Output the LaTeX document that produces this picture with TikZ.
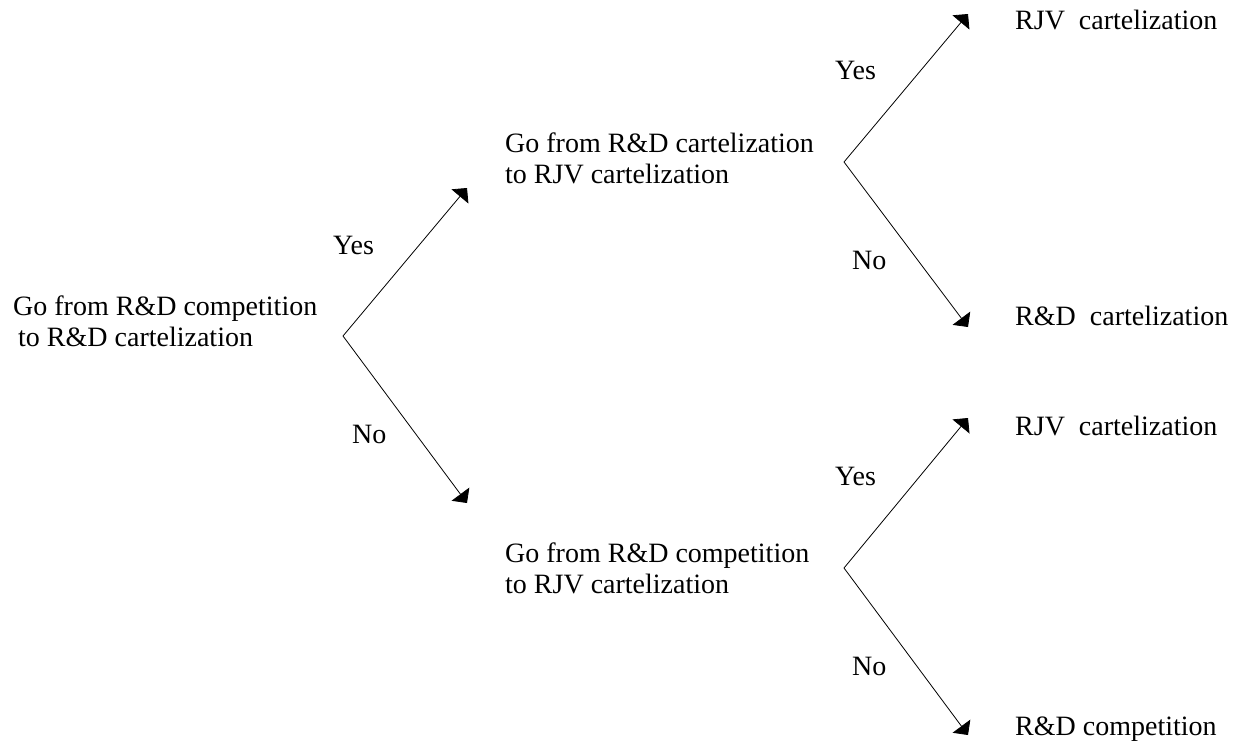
\documentclass[tikz,border=0pt]{standalone}
\usepackage{fontspec}
\setmainfont{Liberation Serif}
\newfontfamily\tnr{Liberation Serif}
\usetikzlibrary{arrows.meta}
\begin{document}
\begin{tikzpicture}[x=1pt,y=-1pt,
  lbl/.style={font=\tnr\fontsize{28}{31}\selectfont, inner sep=0pt, anchor=base west, align=left},
  arr/.style={line width=0.8pt, -{Triangle[length=11pt,width=22pt]}}]
\useasboundingbox (0,0) rectangle (1244,742);
% branch points
\coordinate (v1) at (343,336);
\coordinate (v2) at (844,162);
\coordinate (v3) at (844,568);
% arrow tips
\coordinate (a1y) at (467,188);
\coordinate (a1n) at (467,503);
\coordinate (a2y) at (968,14);
\coordinate (a2n) at (968,327);
\coordinate (a3y) at (968,418);
\coordinate (a3n) at (968,735);
% questions (base = baseline of last line)
\node[lbl] (q1) at (13,346) {Go from R\&D competition\\\hspace*{5pt}to R\&D cartelization};
\node[lbl] (q2) at (505,183) {Go from R\&D cartelization\\to RJV cartelization};
\node[lbl] (q3) at (505,593) {Go from R\&D competition\\to RJV cartelization};
% outcomes
\node[lbl] (o1) at (1015,29) {RJV\ \ cartelization};
\node[lbl] (o2) at (1015,325) {R\&D\ \ cartelization};
\node[lbl] (o3) at (1015,435) {RJV\ \ cartelization};
\node[lbl] (o4) at (1015,735) {R\&D competition};
% yes / no labels
\node[lbl] (y1) at (333,254) {Yes};
\node[lbl] (n1) at (352,443) {No};
\node[lbl] (y2) at (835,79) {Yes};
\node[lbl] (n2) at (852,269) {No};
\node[lbl] (y3) at (835,485) {Yes};
\node[lbl] (n3) at (852,675) {No};
% connectors
\draw[arr] (v1) -- (a1y);
\draw[arr] (v1) -- (a1n);
\draw[arr] (v2) -- (a2y);
\draw[arr] (v2) -- (a2n);
\draw[arr] (v3) -- (a3y);
\draw[arr] (v3) -- (a3n);
\end{tikzpicture}
\end{document}
